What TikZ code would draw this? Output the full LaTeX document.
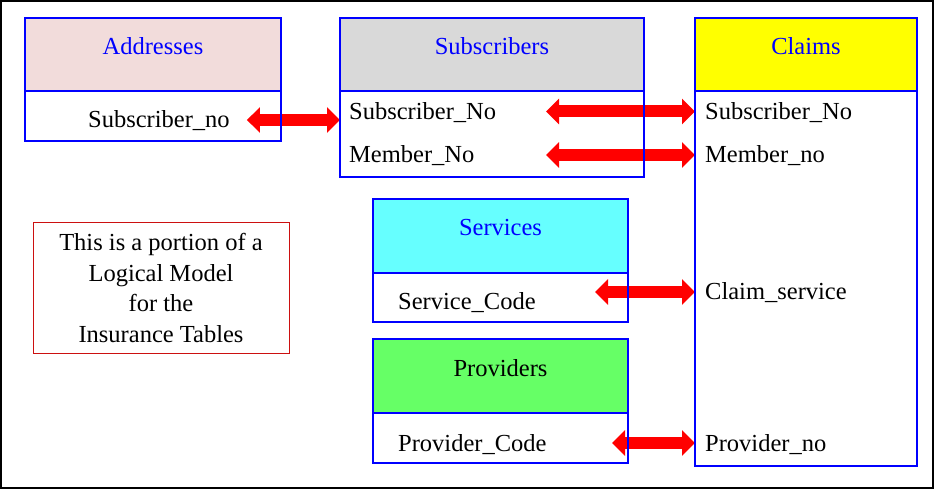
\documentclass[tikz,border=0pt]{standalone}
\usepackage{fontspec}
\setmainfont{Liberation Serif}
\usepackage{tikz}
\usetikzlibrary{arrows.meta,positioning,calc,backgrounds}
\definecolor{adrpink}{RGB}{242,220,219}
\definecolor{subgray}{RGB}{217,217,217}
\definecolor{clyellow}{RGB}{255,255,0}
\definecolor{srvcyan}{RGB}{102,255,255}
\definecolor{prvgreen}{RGB}{102,255,102}
\definecolor{notered}{RGB}{204,16,16}

\begin{document}
\begin{tikzpicture}[x=1pt,y=-1pt,font=\fontsize{24.5}{30.5}\selectfont]
\tikzset{hd/.style={draw=blue,line width=1.2pt,anchor=north west,inner sep=0pt,outer sep=0pt,text=blue,text height=12pt,text depth=12pt,minimum height=73pt},
bd/.style={draw=blue,line width=1.2pt,inner sep=0pt,outer sep=0pt},
row/.style={anchor=base west,inner sep=0pt,text height=20pt,text depth=4pt},
link/.style={red,line width=12pt,{Triangle[width=25pt,length=13pt]}-{Triangle[width=25pt,length=13pt]}}}
\useasboundingbox (0,0) rectangle (935,489);
\draw[line width=2pt] (1,1) rectangle (933,487.5);
% tables
\node[hd,fill=adrpink,minimum width=256pt] (adrh) at (25,18) {Addresses};
\node[bd,below=0pt of adrh,minimum width=256pt,minimum height=50pt] (adrb) {};
\node[hd,fill=subgray,minimum width=304pt] (subh) at (340,18) {Subscribers};
\node[bd,below=0pt of subh,minimum width=304pt,minimum height=86pt] (subb) {};
\node[hd,fill=clyellow,minimum width=222pt] (clh) at (695,18) {Claims};
\node[bd,below=0pt of clh,minimum width=222pt,minimum height=375pt] (clb) {};
\node[hd,fill=srvcyan,minimum width=255pt,minimum height=74pt] (srvh) at (373,199) {Services};
\node[bd,below=0pt of srvh,minimum width=255pt,minimum height=49pt] (srvb) {};
\node[hd,fill=prvgreen,text=black,minimum width=255pt,minimum height=74pt] (prvh) at (373,339) {Providers};
\node[bd,below=0pt of prvh,minimum width=255pt,minimum height=50pt] (prvb) {};
% fields
\node[row] (adr1) at (88,128) {Subscriber\_no};
\node[row] (sub1) at (349,119.5) {Subscriber\_No};
\node[row] (sub2) at (349,163) {Member\_No};
\node[row] (cl1) at (705,119.5) {Subscriber\_No};
\node[row] (cl2) at (705,163) {Member\_no};
\node[row] (cl3) at (705,300) {Claim\_service};
\node[row] (cl4) at (705,451) {Provider\_no};
\node[row] (srv1) at (398,309) {Service\_Code};
\node[row] (prv1) at (398,451) {Provider\_Code};
\node[draw=notered,line width=1pt,minimum width=256pt,minimum height=130pt,align=center,inner sep=0pt] (note) at (161,288) {This is a portion of a\\Logical Model\\for the\\Insurance Tables};
% links, under the table borders
\begin{scope}[on background layer]
\draw[link] ($(adr1.east)+(17,0)$) -- (subb.west |- adr1.east);
\draw[link] ($(subb.east |- cl1)+(-98,0)$) -- (clb.west |- cl1);
\draw[link] ($(subb.east |- cl2)+(-98,0)$) -- (clb.west |- cl2);
\draw[link] ($(srvb.east |- cl3)+(-33,0)$) -- (clb.west |- cl3);
\draw[link] ($(prvb.east |- cl4)+(-16,0)$) -- (clb.west |- cl4);
\end{scope}
\end{tikzpicture}
\end{document}
